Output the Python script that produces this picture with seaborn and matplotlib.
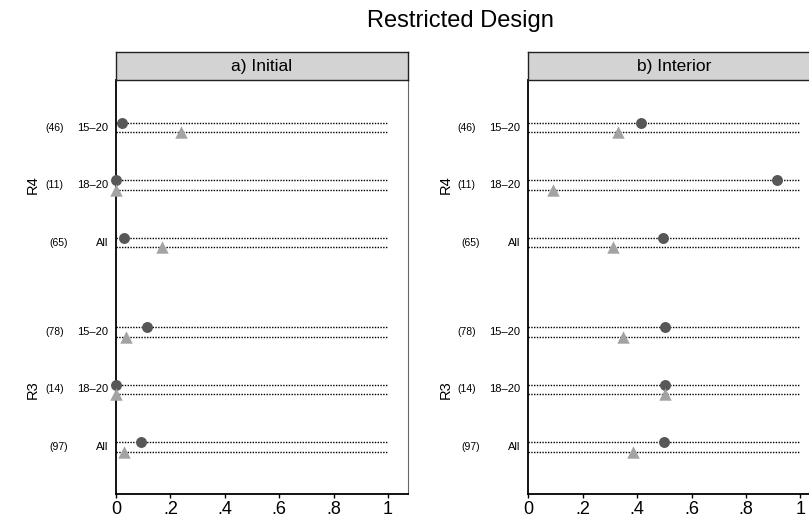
import matplotlib
matplotlib.use("Agg")
import matplotlib.pyplot as plt
import seaborn as sns
import pandas as pd
import numpy as np

sns.set_theme(style="white")
plt.rcParams['font.family'] = ['Liberation Sans', 'DejaVu Sans']
plt.rcParams['text.color'] = 'black'
plt.rcParams['xtick.color'] = 'black'
plt.rcParams['axes.labelcolor'] = 'black'

# ---- data ----
panels = ["a) Initial", "b) Interior"]
regions = ["R4", "R3"]
groups = ["15\u201320", "18\u201320", "All"]
counts = {"R4": [46, 11, 65], "R3": [78, 14, 97]}
# circle (series 1) and triangle (series 2) values per panel, region, group
circle_vals = {
    "a) Initial": {"R4": [0.022, 0.0, 0.029], "R3": [0.115, 0.0, 0.093]},
    "b) Interior": {"R4": [0.415, 0.915, 0.496], "R3": [0.503, 0.503, 0.498]},
}
triangle_vals = {
    "a) Initial": {"R4": [0.239, 0.0, 0.169], "R3": [0.038, 0.0, 0.029]},
    "b) Interior": {"R4": [0.330, 0.092, 0.310], "R3": [0.349, 0.503, 0.384]},
}
series = ["circle", "triangle"]
xticks = [0, 0.2, 0.4, 0.6, 0.8, 1.0]
xticklabels = ["0", ".2", ".4", ".6", ".8", "1"]

# ---- layout ----
W, H = 809, 523
fig = plt.figure(figsize=(W / 100, H / 100), dpi=100)

slot = {("R4", 0): 0, ("R4", 1): 1, ("R4", 2): 2,
        ("R3", 0): 3.553, ("R3", 1): 4.553, ("R3", 2): 5.553}
pair_off = 0.167

rows = []
for p in panels:
    for r in regions:
        for gi, g in enumerate(groups):
            base = slot[(r, gi)]
            rows.append(dict(panel=p, region=r, group=g, n=counts[r][gi],
                             series="circle", value=circle_vals[p][r][gi], y=base))
            rows.append(dict(panel=p, region=r, group=g, n=counts[r][gi],
                             series="triangle", value=triangle_vals[p][r][gi], y=base + pair_off))
df = pd.DataFrame(rows)

ax_left_px = [116, 528.3]
ax_w_px = 292
ax_top_px, ax_bot_px = 80, 494
strip_top_px = 52
xmax = 1.0735
px2data = xmax / ax_w_px

for pi, p in enumerate(panels):
    x0 = ax_left_px[pi] / W
    ax = fig.add_axes([x0, (H - ax_bot_px) / H, ax_w_px / W, (ax_bot_px - ax_top_px) / H])
    sub = df[df.panel == p]
    # dotted reference lines
    ax.hlines(sub["y"], 0, 1, colors="black", linestyles=(0, (1, 1)), linewidth=1.0, zorder=1)
    sub_c = sub[sub.series == "circle"]
    sub_t = sub[sub.series == "triangle"]
    sns.scatterplot(data=sub_c, x="value", y="y", marker="o", color="#575757",
                    s=62, linewidth=0, legend=False, ax=ax, zorder=3, clip_on=False)
    sns.scatterplot(data=sub_t, x="value", y="y", marker="^", color="#a3a3a3",
                    s=80, linewidth=0, legend=False, ax=ax, zorder=3, clip_on=False)
    ax.set_xlim(0, xmax)
    ax.set_ylim(6.457, -0.743)
    ax.set_xticks(xticks)
    ax.set_xticklabels(xticklabels, fontsize=13, color="black")
    ax.set_yticks([])
    ax.set_xlabel("")
    ax.set_ylabel("")
    ax.tick_params(axis="x", bottom=True, length=3, width=1, color="black", pad=2)
    for s in ["left", "bottom"]:
        ax.spines[s].set_color("black")
        ax.spines[s].set_linewidth(1.3)
    ax.spines["right"].set_color("#666666")
    ax.spines["right"].set_linewidth(0.8)
    ax.spines["top"].set_visible(False)

    # row labels
    for r in regions:
        for gi, g in enumerate(groups):
            yc = slot[(r, gi)] + pair_off / 2
            ax.text(-8 * px2data, yc, g, ha="right", va="center", fontsize=8, clip_on=False)
            off = -67 if g == "All" else -71
            ax.text(off * px2data, yc, f"({counts[r][gi]})", ha="left", va="center",
                    fontsize=7.5, clip_on=False)
        ax.text(-83 * px2data, slot[(r, 1)] + pair_off / 2, r, rotation=90,
                ha="center", va="center", fontsize=10.5, clip_on=False)

    # strip
    sax = fig.add_axes([x0, (H - ax_top_px) / H, ax_w_px / W, (ax_top_px - strip_top_px) / H])
    sax.set_facecolor("#d3d3d3")
    sax.set_xticks([])
    sax.set_yticks([])
    for s in sax.spines.values():
        s.set_color("#222222")
        s.set_linewidth(1.0)
    sax.text(0.5, 0.47, p, ha="center", va="center", fontsize=12.5, transform=sax.transAxes)

fig.text(460 / W, 1 - 21 / H, "Restricted Design", ha="center", va="center", fontsize=17)

fig.savefig("out.png", dpi=100)
